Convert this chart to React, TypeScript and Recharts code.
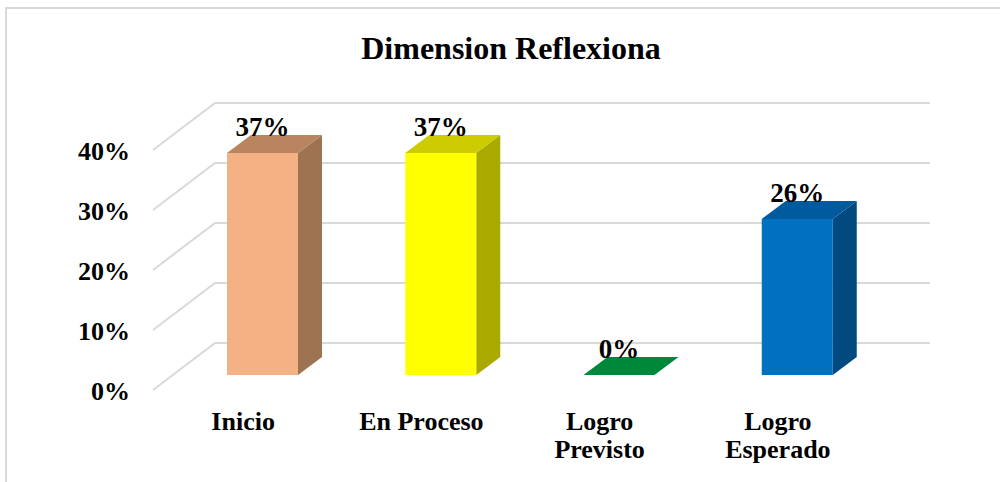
import React from "react";
import { BarChart, Bar, XAxis, YAxis, CartesianGrid, LabelList } from "recharts";

const categories = ["Inicio", "En Proceso", "Logro\nPrevisto", "Logro\nEsperado"];
const values = [0.37, 0.37, 0, 0.26];
const yTicks = [0, 0.1, 0.2, 0.3, 0.4];

// front / side / top colours per bar
const faceColors = [
  { front: "#F4B183", side: "#9D7352", top: "#B9845F" },
  { front: "#FFFF00", side: "#A9A900", top: "#CCCC00" },
  { front: "#00883A", side: "#005A26", top: "#00883A" },
  { front: "#0070C0", side: "#004A7F", top: "#005A9E" },
];

const data = categories.map((c, i) => ({ name: c, value: values[i], idx: i }));

const FONT = '"Times New Roman", "Liberation Serif", serif';
const DX = 24;
const DY = 18;

const pct = (v: number) => `${Math.round(v * 100)}%`;

function Box3D(props: any) {
  const { x, y, width, height, payload } = props;
  const c = faceColors[payload.idx];
  if (!height) {
    return (
      <polygon
        points={`${x},${y} ${x + DX},${y - DY} ${x + width + DX},${y - DY} ${x + width},${y}`}
        fill={c.top}
      />
    );
  }
  return (
    <g>
      <polygon
        points={`${x + width},${y} ${x + width + DX},${y - DY} ${x + width + DX},${y + height - DY} ${x + width},${y + height}`}
        fill={c.side}
      />
      <polygon
        points={`${x},${y} ${x + DX},${y - DY} ${x + width + DX},${y - DY} ${x + width},${y}`}
        fill={c.top}
      />
      <rect x={x} y={y} width={width} height={height} fill={c.front} />
    </g>
  );
}

function PerspectiveLine(props: any) {
  const { x1, x2, y1 } = props;
  const fx = x1 - 20;
  const fy = y1 + 15;
  const bx = fx + 62;
  const by = y1 - 32;
  return (
    <polyline
      points={`${fx},${fy} ${bx},${by} ${x2 + 44},${by}`}
      fill="none"
      stroke="#D9D9D9"
      strokeWidth={2}
    />
  );
}

function YTick(props: any) {
  const { x, y, payload } = props;
  return (
    <text
      x={x - 35}
      y={y + 16}
      textAnchor="end"
      dominantBaseline="central"
      fontFamily={FONT}
      fontWeight="bold"
      fontSize={26}
      fill="#000"
    >
      {pct(payload.value)}
    </text>
  );
}

function XTick(props: any) {
  const { x, y, payload } = props;
  const lines = String(payload.value).split("\n");
  return (
    <text
      x={x - 19}
      y={y + 47}
      textAnchor="middle"
      fontFamily={FONT}
      fontWeight="bold"
      fontSize={26}
      fill="#000"
    >
      {lines.map((l, i) => (
        <tspan key={i} x={x - 19} dy={i === 0 ? 0 : 28}>
          {l}
        </tspan>
      ))}
    </text>
  );
}

function ValueLabel(props: any) {
  const { x, y, width, value } = props;
  return (
    <text
      x={x + width / 2}
      y={y - 26}
      textAnchor="middle"
      dominantBaseline="central"
      fontFamily={FONT}
      fontWeight="bold"
      fontSize={27}
      fill="#000"
    >
      {pct(value)}
    </text>
  );
}

export default function App() {
  return (
    <div style={{ position: "absolute", left: 0, top: 0, width: 1000, height: 482, background: "#fff", overflow: "hidden" }}>
      <div
        style={{
          position: "absolute",
          left: 5,
          top: 7,
          width: 1100,
          height: 600,
          border: "2px solid #D9D9D9",
        }}
      />
      <div
        style={{
          position: "absolute",
          left: 0,
          top: 28,
          width: 1022,
          textAlign: "center",
          fontFamily: FONT,
          fontWeight: "bold",
          fontSize: 32,
          lineHeight: "40px",
        }}
      >
        Dimension Reflexiona
      </div>
      <div style={{ position: "absolute", left: 0, top: 0 }}>
        <BarChart
          width={1000}
          height={482}
          data={data}
          margin={{ top: 135, right: 114, bottom: 0, left: 113 }}
        >
          <CartesianGrid vertical={false} horizontal={(p: any) => <PerspectiveLine key={p.key} {...p} />} />
          <XAxis
            dataKey="name"
            height={107}
            axisLine={false}
            tickLine={false}
            tick={<XTick />}
            interval={0}
          />
          <YAxis
            width={60}
            domain={[0, 0.4]}
            ticks={yTicks}
            axisLine={false}
            tickLine={false}
            tick={<YTick />}
          />
          <Bar dataKey="value" barSize={71} shape={<Box3D />} isAnimationActive={false}>
            <LabelList dataKey="value" content={<ValueLabel />} />
          </Bar>
        </BarChart>
      </div>
    </div>
  );
}
